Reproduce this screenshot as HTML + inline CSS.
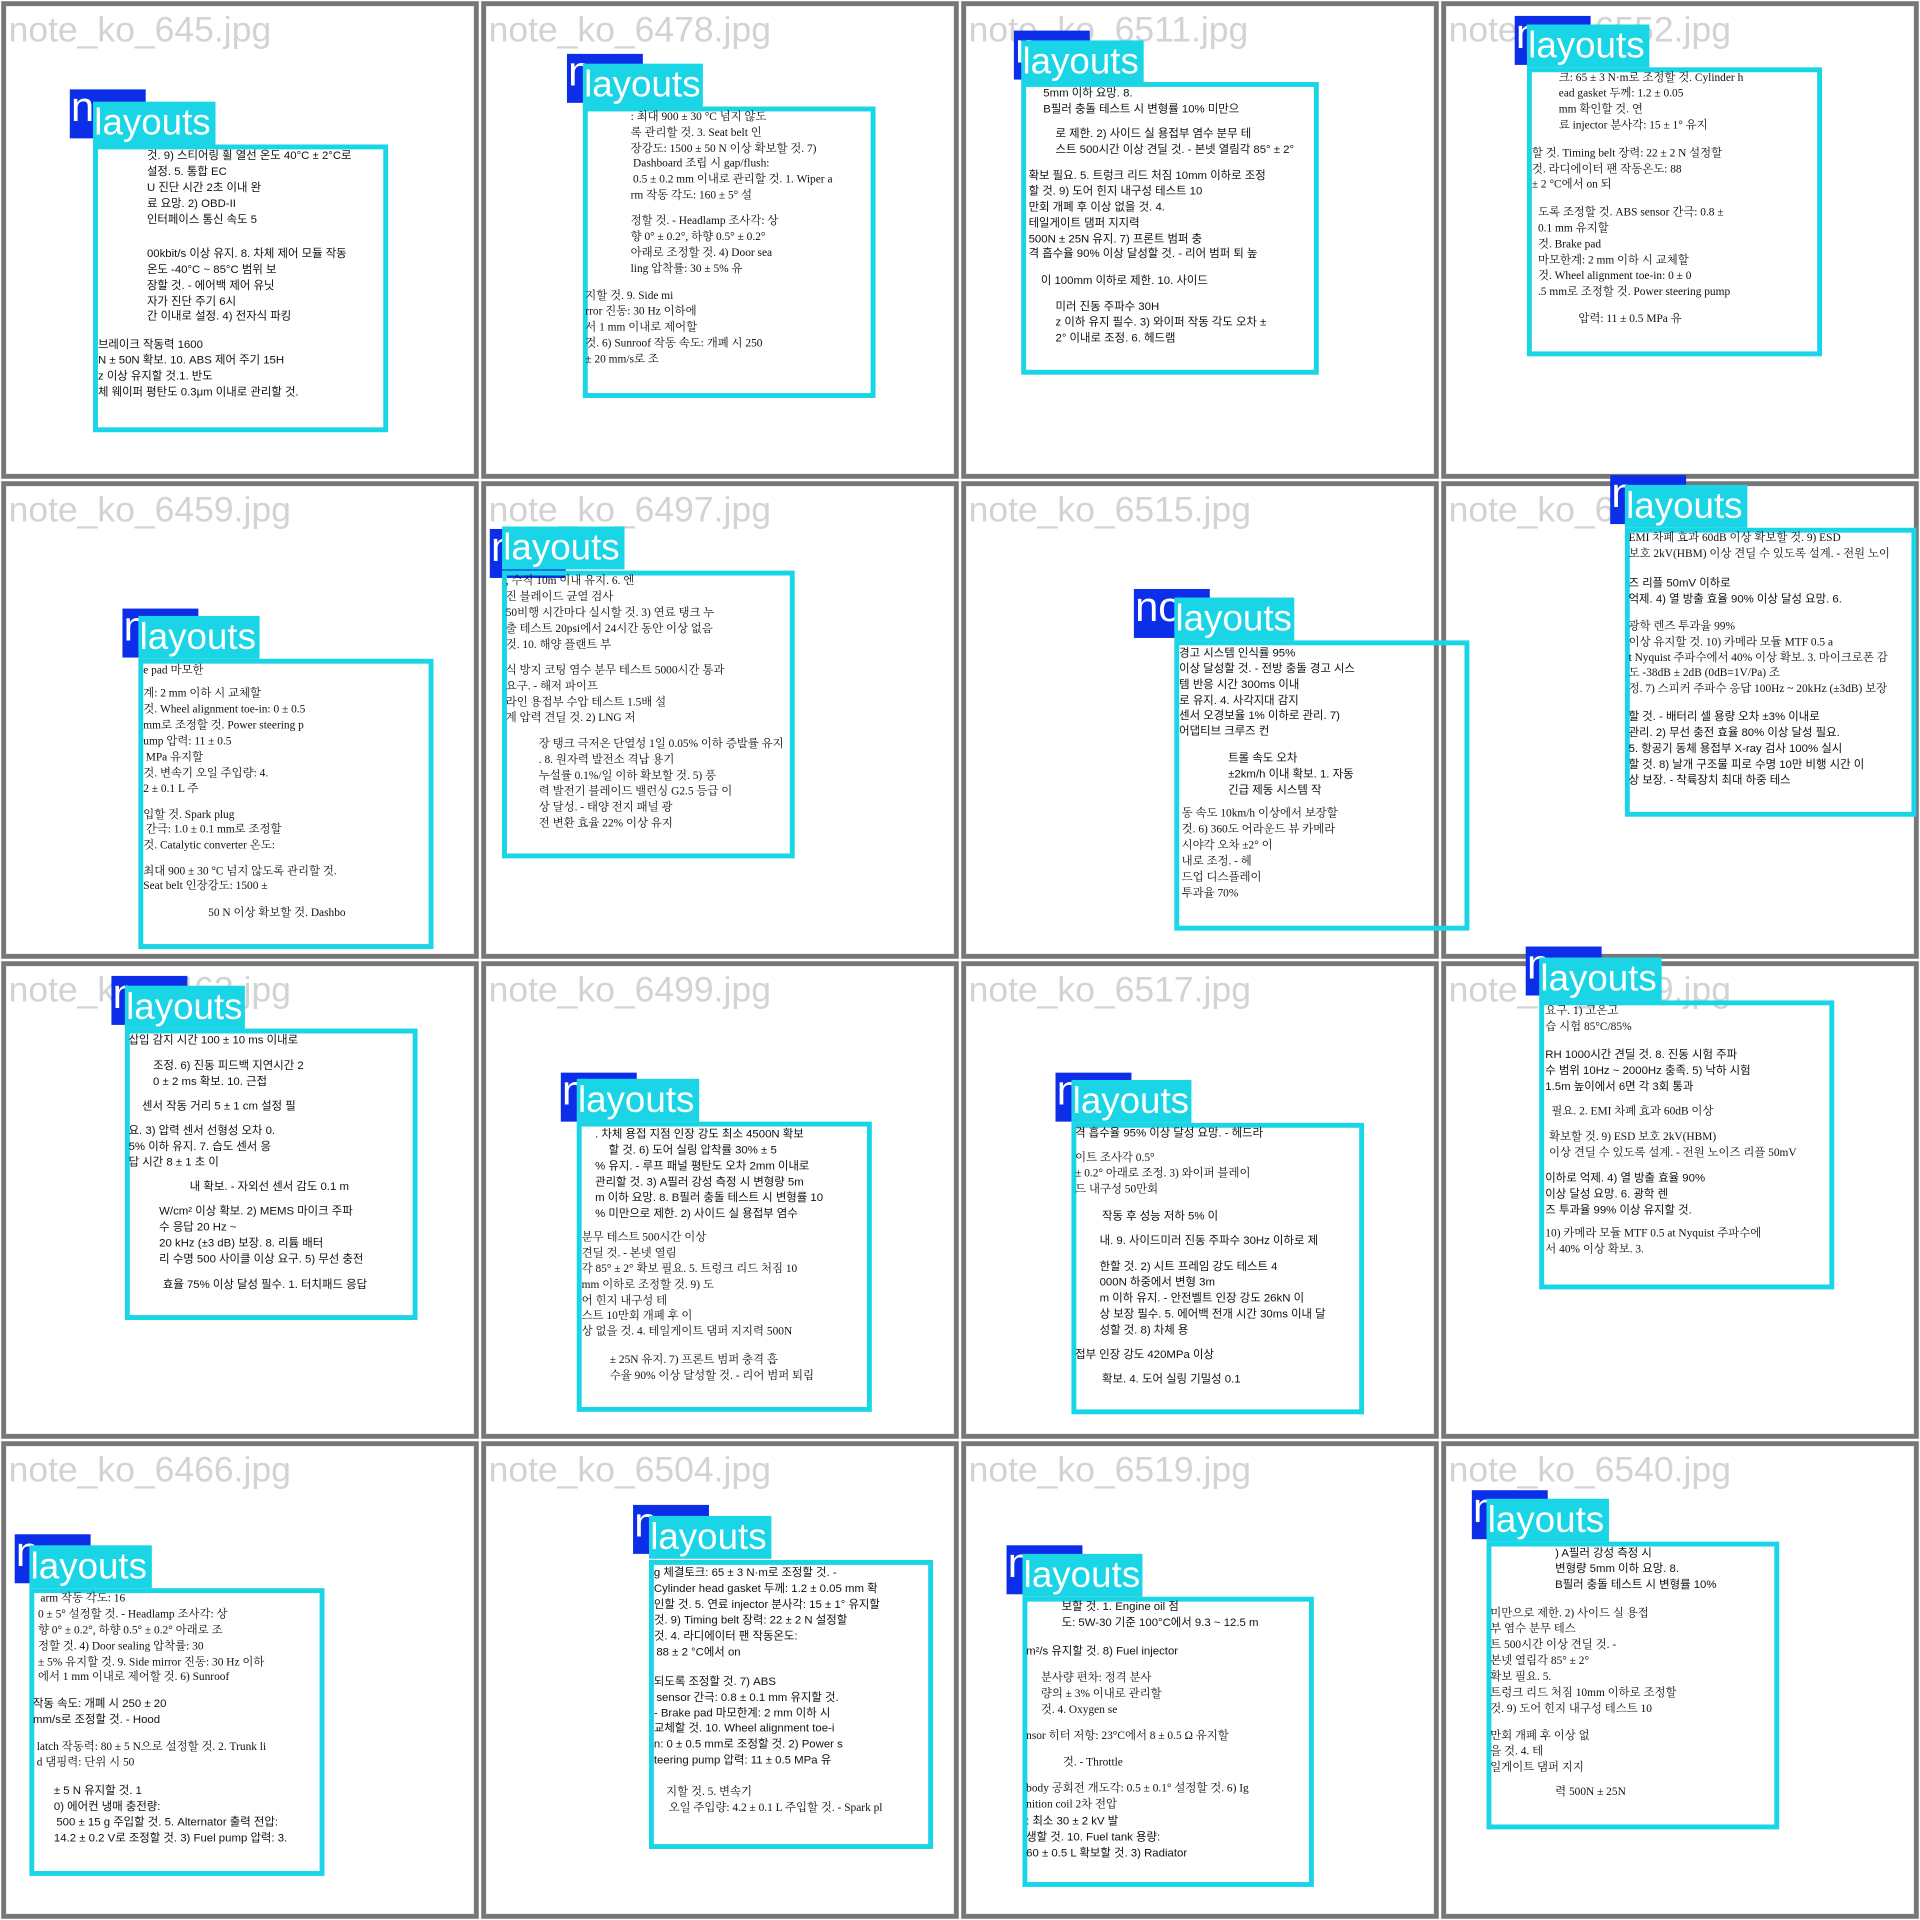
<!DOCTYPE html>
<html><head><meta charset="utf-8"><style>
html,body{margin:0;padding:0;background:#fff;width:1920px;height:1920px;overflow:hidden}
#w{position:absolute;left:0;top:0;width:1568px;height:1568px;transform:scale(1.224490);transform-origin:0 0}
.c{position:absolute;width:382px;height:382px;border:4px solid #777;background:#fff;overflow:hidden}
.c span{position:absolute;left:2px;top:4px;font:29px "Liberation Sans",sans-serif;color:#d3d3d3;white-space:nowrap}
.b{position:absolute;width:62px;height:40px;background:#0d2ee8;overflow:hidden;z-index:2}
.b em{position:absolute;left:1px;top:-4px;font:34px "Liberation Sans",sans-serif;color:#fff;font-style:normal}
.l{position:absolute;height:35px;background:#19d5e6;color:#fff;font:30px/35px "Liberation Sans",sans-serif;z-index:3;white-space:nowrap;box-sizing:border-box;padding-left:1px}
.x{position:absolute;border:4px solid #19d5e6;box-sizing:border-box;z-index:3}
i{position:absolute;font-style:normal;font-size:9.3px;line-height:12px;white-space:nowrap;color:#111;z-index:4;font-family:"Liberation Sans","Noto Sans CJK KR",sans-serif}
.s i{font-family:"Liberation Serif","Noto Serif CJK SC",serif}
</style></head><body><div id="w">

<div class="c" style="left:1px;top:1px"><span>note_ko_645.jpg</span></div>
<div class="c" style="left:393px;top:1px"><span>note_ko_6478.jpg</span></div>
<div class="c" style="left:785px;top:1px"><span>note_ko_6511.jpg</span></div>
<div class="c" style="left:1177px;top:1px"><span>note_ko_6552.jpg</span></div>
<div class="c" style="left:1px;top:393px"><span>note_ko_6459.jpg</span></div>
<div class="c" style="left:393px;top:393px"><span>note_ko_6497.jpg</span></div>
<div class="c" style="left:785px;top:393px"><span>note_ko_6515.jpg</span></div>
<div class="c" style="left:1177px;top:393px"><span>note_ko_6538.jpg</span></div>
<div class="c" style="left:1px;top:785px"><span>note_ko_6463.jpg</span></div>
<div class="c" style="left:393px;top:785px"><span>note_ko_6499.jpg</span></div>
<div class="c" style="left:785px;top:785px"><span>note_ko_6517.jpg</span></div>
<div class="c" style="left:1177px;top:785px"><span>note_ko_6539.jpg</span></div>
<div class="c" style="left:1px;top:1177px"><span>note_ko_6466.jpg</span></div>
<div class="c" style="left:393px;top:1177px"><span>note_ko_6504.jpg</span></div>
<div class="c" style="left:785px;top:1177px"><span>note_ko_6519.jpg</span></div>
<div class="c" style="left:1177px;top:1177px"><span>note_ko_6540.jpg</span></div>

<!-- 1 -->
<div class="b" style="left:57px;top:73px"><em>n</em></div><div class="l" style="left:76px;top:83px;width:100px">layouts</div><div class="x" style="left:76px;top:118px;width:241px;height:235px"></div>
<div>
<i style="left:120px;top:121px">것. 9) 스티어링 휠 열선 온도 40°C ± 2°C로</i><i style="left:120px;top:134px">설정. 5. 통합 EC</i><i style="left:120px;top:147px">U 진단 시간 2초 이내 완</i><i style="left:120px;top:160px">료 요망. 2) OBD-II</i><i style="left:120px;top:173px">인터페이스 통신 속도 5</i>
<i style="left:120px;top:201px">00kbit/s 이상 유지. 8. 차체 제어 모듈 작동</i><i style="left:120px;top:214px">온도 -40°C ~ 85°C 범위 보</i><i style="left:120px;top:227px">장할 것. - 에어백 제어 유닛</i><i style="left:120px;top:240px">자가 진단 주기 6시</i><i style="left:120px;top:252px">간 이내로 설정. 4) 전자식 파킹</i>
<i style="left:80px;top:275px">브레이크 작동력 1600</i><i style="left:80px;top:288px">N ± 50N 확보. 10. ABS 제어 주기 15H</i><i style="left:80px;top:301px">z 이상 유지할 것.1. 반도</i><i style="left:80px;top:314px">체 웨이퍼 평탄도 0.3μm 이내로 관리할 것.</i>
</div>

<!-- 2 -->
<div class="b" style="left:463px;top:44px"><em>n</em></div><div class="l" style="left:476px;top:52px;width:98px">layouts</div><div class="x" style="left:476px;top:87px;width:239px;height:238px"></div>
<div class="s">
<i style="left:515px;top:90px">: 최대 900 ± 30 °C 넘지 않도</i><i style="left:515px;top:103px">록 관리할 것. 3. Seat belt 인</i><i style="left:515px;top:116px">장강도: 1500 ± 50 N 이상 확보할 것. 7)</i><i style="left:517px;top:128px">Dashboard 조립 시 gap/flush:</i><i style="left:517px;top:141px">0.5 ± 0.2 mm 이내로 관리할 것. 1. Wiper a</i><i style="left:515px;top:154px">rm 작동 각도: 160 ± 5° 설</i>
<i style="left:515px;top:175px">정할 것. - Headlamp 조사각: 상</i><i style="left:515px;top:188px">향 0° ± 0.2°, 하향 0.5° ± 0.2°</i><i style="left:515px;top:201px">아래로 조정할 것. 4) Door sea</i><i style="left:515px;top:214px">ling 압착률: 30 ± 5% 유</i>
<i style="left:478px;top:236px">지할 것. 9. Side mi</i><i style="left:478px;top:249px">rror 진동: 30 Hz 이하에</i><i style="left:478px;top:262px">서 1 mm 이내로 제어할</i><i style="left:478px;top:275px">것. 6) Sunroof 작동 속도: 개폐 시 250</i><i style="left:478px;top:288px">± 20 mm/s로 조</i>
</div>

<!-- 3 -->
<div class="b" style="left:828px;top:25px"><em>n</em></div><div class="l" style="left:834px;top:33px;width:100px">layouts</div><div class="x" style="left:834px;top:67px;width:243px;height:239px"></div>
<div>
<i style="left:852px;top:70px">5mm 이하 요망. 8.</i><i style="left:852px;top:83px">B필러 충돌 테스트 시 변형률 10% 미만으</i>
<i style="left:862px;top:103px">로 제한. 2) 사이드 실 용접부 염수 분무 테</i><i style="left:862px;top:116px">스트 500시간 이상 견딜 것. - 본넷 열림각 85° ± 2°</i>
<i style="left:840px;top:137px">확보 필요. 5. 트렁크 리드 처짐 10mm 이하로 조정</i><i style="left:840px;top:150px">할 것. 9) 도어 힌지 내구성 테스트 10</i><i style="left:840px;top:163px">만회 개폐 후 이상 없을 것. 4.</i><i style="left:840px;top:176px">테일게이트 댐퍼 지지력</i><i style="left:840px;top:189px">500N ± 25N 유지. 7) 프론트 범퍼 충</i><i style="left:840px;top:201px">격 흡수율 90% 이상 달성할 것. - 리어 범퍼 퇴 높</i>
<i style="left:850px;top:223px">이 100mm 이하로 제한. 10. 사이드</i>
<i style="left:862px;top:244px">미러 진동 주파수 30H</i><i style="left:862px;top:257px">z 이하 유지 필수. 3) 와이퍼 작동 각도 오차 ±</i><i style="left:862px;top:270px">2° 이내로 조정. 6. 헤드램</i>
</div>

<!-- 4 -->
<div class="b" style="left:1237px;top:13px"><em>n</em></div><div class="l" style="left:1247px;top:20px;width:100px">layouts</div><div class="x" style="left:1247px;top:55px;width:241px;height:236px"></div>
<div class="s">
<i style="left:1273px;top:58px">크: 65 ± 3 N·m로 조정할 것. Cylinder h</i><i style="left:1273px;top:71px">ead gasket 두께: 1.2 ± 0.05</i><i style="left:1273px;top:84px">mm 확인할 것. 연</i><i style="left:1273px;top:97px">료 injector 분사각: 15 ± 1° 유지</i>
<i style="left:1251px;top:120px">할 것. Timing belt 장력: 22 ± 2 N 설정할</i><i style="left:1251px;top:133px">것. 라디에이터 팬 작동온도: 88</i><i style="left:1251px;top:145px">± 2 °C에서 on 되</i>
<i style="left:1256px;top:168px">도록 조정할 것. ABS sensor 간극: 0.8 ±</i><i style="left:1256px;top:181px">0.1 mm 유지할</i><i style="left:1256px;top:194px">것. Brake pad</i><i style="left:1256px;top:207px">마모한계: 2 mm 이하 시 교체할</i><i style="left:1256px;top:220px">것. Wheel alignment toe-in: 0 ± 0</i><i style="left:1256px;top:233px">.5 mm로 조정할 것. Power steering pump</i>
<i style="left:1289px;top:255px">압력: 11 ± 0.5 MPa 유</i>
</div>

<!-- 5 -->
<div class="b" style="left:100px;top:497px"><em>n</em></div><div class="l" style="left:113px;top:503px;width:99px">layouts</div><div class="x" style="left:113px;top:538px;width:241px;height:237px"></div>
<div class="s">
<i style="left:117px;top:542px">e pad 마모한</i>
<i style="left:117px;top:561px">계: 2 mm 이하 시 교체할</i><i style="left:117px;top:574px">것. Wheel alignment toe-in: 0 ± 0.5</i><i style="left:117px;top:587px">mm로 조정할 것. Power steering p</i><i style="left:117px;top:600px">ump 압력: 11 ± 0.5</i><i style="left:119px;top:613px">MPa 유지할</i><i style="left:117px;top:626px">것. 변속기 오일 주입량: 4.</i><i style="left:117px;top:639px">2 ± 0.1 L 주</i>
<i style="left:117px;top:660px">입할 것. Spark plug</i><i style="left:119px;top:672px">간극: 1.0 ± 0.1 mm로 조정할</i><i style="left:117px;top:685px">것. Catalytic converter 온도:</i>
<i style="left:117px;top:706px">최대 900 ± 30 °C 넘지 않도록 관리할 것.</i><i style="left:117px;top:718px">Seat belt 인장강도: 1500 ±</i>
<i style="left:170px;top:740px">50 N 이상 확보할 것. Dashbo</i>
</div>

<!-- 6 -->
<div class="b" style="left:400px;top:432px"><em>n</em></div><div class="l" style="left:410px;top:430px;width:100px">layouts</div><div class="x" style="left:410px;top:466px;width:239px;height:235px"></div>
<div class="s">
<i style="left:413px;top:469px">, 수직 10m 이내 유지. 6. 엔</i><i style="left:413px;top:482px">진 블레이드 균열 검사</i><i style="left:413px;top:495px">50비행 시간마다 실시할 것. 3) 연료 탱크 누</i><i style="left:413px;top:508px">출 테스트 20psi에서 24시간 동안 이상 없음</i><i style="left:413px;top:521px">것. 10. 해양 플랜트 부</i>
<i style="left:413px;top:542px">식 방지 코팅 염수 분무 테스트 5000시간 통과</i><i style="left:413px;top:555px">요구. - 해저 파이프</i><i style="left:413px;top:568px">라인 용접부 수압 테스트 1.5배 설</i><i style="left:413px;top:581px">계 압력 견딜 것. 2) LNG 저</i>
<i style="left:440px;top:602px">장 탱크 극저온 단열성 1일 0.05% 이하 증발률 유지</i><i style="left:440px;top:615px">. 8. 원자력 발전소 격납 용기</i><i style="left:440px;top:628px">누설률 0.1%/일 이하 확보할 것. 5) 풍</i><i style="left:440px;top:641px">력 발전기 블레이드 밸런싱 G2.5 등급 이</i><i style="left:440px;top:654px">상 달성. - 태양 전지 패널 광</i><i style="left:440px;top:667px">전 변환 효율 22% 이상 유지</i>
</div>

<!-- 7 -->
<div class="b" style="left:926px;top:481px"><em>no</em></div><div class="l" style="left:959px;top:488px;width:98px">layouts</div><div class="x" style="left:959px;top:523px;width:241px;height:237px"></div>
<div>
<i style="left:963px;top:527px">경고 시스템 인식률 95%</i><i style="left:963px;top:540px">이상 달성할 것. - 전방 충돌 경고 시스</i><i style="left:963px;top:553px">템 반응 시간 300ms 이내</i><i style="left:963px;top:566px">로 유지. 4. 사각지대 감지</i><i style="left:963px;top:578px">센서 오경보율 1% 이하로 관리. 7)</i><i style="left:963px;top:591px">어댑티브 크루즈 컨</i>
<i style="left:1003px;top:613px">트롤 속도 오차</i><i style="left:1003px;top:626px">±2km/h 이내 확보. 1. 자동</i><i style="left:1003px;top:639px">긴급 제동 시스템 작</i>
</div><div class="s">
<i style="left:965px;top:659px">동 속도 10km/h 이상에서 보장할</i><i style="left:965px;top:672px">것. 6) 360도 어라운드 뷰 카메라</i><i style="left:965px;top:685px">시야각 오차 ±2° 이</i><i style="left:965px;top:698px">내로 조정. - 헤</i><i style="left:965px;top:711px">드업 디스플레이</i><i style="left:965px;top:724px">투과율 70%</i>
</div>

<!-- 8 -->
<div class="b" style="left:1315px;top:388px"><em>n</em></div><div class="l" style="left:1327px;top:396px;width:100px">layouts</div><div class="x" style="left:1327px;top:431px;width:238px;height:236px"></div>
<div class="s">
<i style="left:1330px;top:434px">EMI 차폐 효과 60dB 이상 확보할 것. 9) ESD</i><i style="left:1330px;top:447px">보호 2kV(HBM) 이상 견딜 수 있도록 설계. - 전원 노이</i>
</div><div>
<i style="left:1330px;top:470px">즈 리플 50mV 이하로</i><i style="left:1330px;top:483px">억제. 4) 열 방출 효율 90% 이상 달성 요망. 6.</i>
</div><div class="s">
<i style="left:1330px;top:506px">광학 렌즈 투과율 99%</i><i style="left:1330px;top:519px">이상 유지할 것. 10) 카메라 모듈 MTF 0.5 a</i><i style="left:1330px;top:532px">t Nyquist 주파수에서 40% 이상 확보. 3. 마이크로폰 감</i><i style="left:1330px;top:544px">도 -38dB ± 2dB (0dB=1V/Pa) 조</i><i style="left:1330px;top:557px">정. 7) 스피커 주파수 응답 100Hz ~ 20kHz (±3dB) 보장</i>
</div><div>
<i style="left:1330px;top:579px">할 것. - 배터리 셀 용량 오차 ±3% 이내로</i><i style="left:1330px;top:592px">관리. 2) 무선 충전 효율 80% 이상 달성 필요.</i><i style="left:1330px;top:605px">5. 항공기 동체 용접부 X-ray 검사 100% 실시</i><i style="left:1330px;top:618px">할 것. 8) 날개 구조물 피로 수명 10만 비행 시간 이</i><i style="left:1330px;top:631px">상 보장. - 착륙장치 최대 하중 테스</i>
</div>

<!-- 9 -->
<div class="b" style="left:91px;top:797px"><em>n</em></div><div class="l" style="left:102px;top:805px;width:98px">layouts</div><div class="x" style="left:102px;top:840px;width:239px;height:238px"></div>
<div>
<i style="left:105px;top:843px">삽입 감지 시간 100 ± 10 ms 이내로</i>
<i style="left:125px;top:864px">조정. 6) 진동 피드백 지연시간 2</i><i style="left:125px;top:877px">0 ± 2 ms 확보. 10. 근접</i>
<i style="left:116px;top:897px">센서 작동 거리 5 ± 1 cm 설정 필</i>
<i style="left:105px;top:917px">요. 3) 압력 센서 선형성 오차 0.</i><i style="left:105px;top:930px">5% 이하 유지. 7. 습도 센서 응</i><i style="left:105px;top:943px">답 시간 8 ± 1 초 이</i>
<i style="left:155px;top:963px">내 확보. - 자외선 센서 감도 0.1 m</i>
<i style="left:130px;top:983px">W/cm² 이상 확보. 2) MEMS 마이크 주파</i><i style="left:130px;top:996px">수 응답 20 Hz ~</i><i style="left:130px;top:1009px">20 kHz (±3 dB) 보장. 8. 리튬 배터</i><i style="left:130px;top:1022px">리 수명 500 사이클 이상 요구. 5) 무선 충전</i>
<i style="left:133px;top:1043px">효율 75% 이상 달성 필수. 1. 터치패드 응답</i>
</div>

<!-- 10 -->
<div class="b" style="left:458px;top:876px"><em>n</em></div><div class="l" style="left:471px;top:881px;width:100px">layouts</div><div class="x" style="left:471px;top:916px;width:241px;height:237px"></div>
<div>
<i style="left:486px;top:920px">. 차체 용접 지점 인장 강도 최소 4500N 확보</i><i style="left:497px;top:933px">할 것. 6) 도어 실링 압착률 30% ± 5</i><i style="left:486px;top:946px">% 유지. - 루프 패널 평탄도 오차 2mm 이내로</i><i style="left:486px;top:959px">관리할 것. 3) A필러 강성 측정 시 변형량 5m</i><i style="left:486px;top:972px">m 이하 요망. 8. B필러 충돌 테스트 시 변형률 10</i><i style="left:486px;top:985px">% 미만으로 제한. 2) 사이드 실 용접부 염수</i>
</div><div class="s">
<i style="left:475px;top:1005px">분무 테스트 500시간 이상</i><i style="left:475px;top:1018px">견딜 것. - 본넷 열림</i><i style="left:475px;top:1031px">각 85° ± 2° 확보 필요. 5. 트렁크 리드 처짐 10</i><i style="left:475px;top:1044px">mm 이하로 조정할 것. 9) 도</i><i style="left:475px;top:1057px">어 힌지 내구성 테</i><i style="left:475px;top:1069px">스트 10만회 개폐 후 이</i><i style="left:475px;top:1082px">상 없을 것. 4. 테일게이트 댐퍼 지지력 500N</i>
<i style="left:498px;top:1105px">± 25N 유지. 7) 프론트 범퍼 충격 흡</i><i style="left:498px;top:1118px">수율 90% 이상 달성할 것. - 리어 범퍼 퇴림</i>
</div>

<!-- 11 -->
<div class="b" style="left:862px;top:876px"><em>n</em></div><div class="l" style="left:875px;top:882px;width:98px">layouts</div><div class="x" style="left:875px;top:917px;width:239px;height:238px"></div>
<div>
<i style="left:878px;top:919px">격 흡수율 95% 이상 달성 요망. - 헤드라</i>
</div><div class="s">
<i style="left:878px;top:940px">이트 조사각 0.5°</i><i style="left:878px;top:953px">± 0.2° 아래로 조정. 3) 와이퍼 블레이</i><i style="left:878px;top:966px">드 내구성 50만회</i>
</div><div>
<i style="left:900px;top:987px">작동 후 성능 저하 5% 이</i>
<i style="left:898px;top:1007px">내. 9. 사이드미러 진동 주파수 30Hz 이하로 제</i>
<i style="left:898px;top:1028px">한할 것. 2) 시트 프레임 강도 테스트 4</i><i style="left:898px;top:1041px">000N 하중에서 변형 3m</i><i style="left:898px;top:1054px">m 이하 유지. - 안전벨트 인장 강도 26kN 이</i><i style="left:898px;top:1067px">상 보장 필수. 5. 에어백 전개 시간 30ms 이내 달</i><i style="left:898px;top:1080px">성할 것. 8) 차체 용</i>
<i style="left:878px;top:1100px">접부 인장 강도 420MPa 이상</i>
<i style="left:900px;top:1120px">확보. 4. 도어 실링 기밀성 0.1</i>
</div>

<!-- 12 -->
<div class="b" style="left:1246px;top:773px"><em>n</em></div><div class="l" style="left:1257px;top:782px;width:100px">layouts</div><div class="x" style="left:1257px;top:817px;width:241px;height:236px"></div>
<div class="s">
<i style="left:1262px;top:820px">요구. 1) 고온고</i><i style="left:1262px;top:833px">습 시험 85°C/85%</i>
</div><div>
<i style="left:1262px;top:855px">RH 1000시간 견딜 것. 8. 진동 시험 주파</i><i style="left:1262px;top:868px">수 범위 10Hz ~ 2000Hz 충족. 5) 낙하 시험</i><i style="left:1262px;top:881px">1.5m 높이에서 6면 각 3회 통과</i>
</div><div class="s">
<i style="left:1267px;top:902px">필요. 2. EMI 차폐 효과 60dB 이상</i>
<i style="left:1265px;top:923px">확보할 것. 9) ESD 보호 2kV(HBM)</i><i style="left:1265px;top:936px">이상 견딜 수 있도록 설계. - 전원 노이즈 리플 50mV</i>
</div><div>
<i style="left:1262px;top:956px">이하로 억제. 4) 열 방출 효율 90%</i><i style="left:1262px;top:969px">이상 달성 요망. 6. 광학 렌</i><i style="left:1262px;top:982px">즈 투과율 99% 이상 유지할 것.</i>
</div><div class="s">
<i style="left:1262px;top:1002px">10) 카메라 모듈 MTF 0.5 at Nyquist 주파수에</i><i style="left:1262px;top:1015px">서 40% 이상 확보. 3.</i>
</div>

<!-- 13 -->
<div class="b" style="left:12px;top:1253px"><em>n</em></div><div class="l" style="left:24px;top:1262px;width:100px">layouts</div><div class="x" style="left:24px;top:1297px;width:241px;height:235px"></div>
<div class="s">
<i style="left:33px;top:1300px">arm 작동 각도: 16</i><i style="left:31px;top:1313px">0 ± 5° 설정할 것. - Headlamp 조사각: 상</i><i style="left:31px;top:1326px">향 0° ± 0.2°, 하향 0.5° ± 0.2° 아래로 조</i><i style="left:31px;top:1339px">정할 것. 4) Door sealing 압착률: 30</i><i style="left:31px;top:1352px">± 5% 유지할 것. 9. Side mirror 진동: 30 Hz 이하</i><i style="left:31px;top:1364px">에서 1 mm 이내로 제어할 것. 6) Sunroof</i>
</div><div>
<i style="left:27px;top:1385px">작동 속도: 개폐 시 250 ± 20</i><i style="left:27px;top:1398px">mm/s로 조정할 것. - Hood</i>
</div><div class="s">
<i style="left:30px;top:1421px">latch 작동력: 80 ± 5 N으로 설정할 것. 2. Trunk li</i><i style="left:30px;top:1434px">d 댐핑력: 단위 시 50</i>
</div><div>
<i style="left:44px;top:1456px">± 5 N 유지할 것. 1</i><i style="left:44px;top:1469px">0) 에어컨 냉매 충전량:</i><i style="left:46px;top:1482px">500 ± 15 g 주입할 것. 5. Alternator 출력 전압:</i><i style="left:44px;top:1495px">14.2 ± 0.2 V로 조정할 것. 3) Fuel pump 압력: 3.</i>
</div>

<!-- 14 -->
<div class="b" style="left:517px;top:1229px"><em>n</em></div><div class="l" style="left:530px;top:1238px;width:100px">layouts</div><div class="x" style="left:530px;top:1274px;width:232px;height:236px"></div>
<div>
<i style="left:534px;top:1278px">g 체결토크: 65 ± 3 N·m로 조정할 것. -</i><i style="left:534px;top:1291px">Cylinder head gasket 두께: 1.2 ± 0.05 mm 확</i><i style="left:534px;top:1304px">인할 것. 5. 연료 injector 분사각: 15 ± 1° 유지할</i><i style="left:534px;top:1317px">것. 9) Timing belt 장력: 22 ± 2 N 설정할</i><i style="left:534px;top:1330px">것. 4. 라디에이터 팬 작동온도:</i><i style="left:536px;top:1343px">88 ± 2 °C에서 on</i>
<i style="left:534px;top:1367px">되도록 조정할 것. 7) ABS</i><i style="left:536px;top:1380px">sensor 간극: 0.8 ± 0.1 mm 유지할 것.</i><i style="left:534px;top:1393px">- Brake pad 마모한계: 2 mm 이하 시</i><i style="left:534px;top:1405px">교체할 것. 10. Wheel alignment toe-i</i><i style="left:534px;top:1418px">n: 0 ± 0.5 mm로 조정할 것. 2) Power s</i><i style="left:534px;top:1431px">teering pump 압력: 11 ± 0.5 MPa 유</i>
</div><div class="s">
<i style="left:544px;top:1458px">지할 것. 5. 변속기</i><i style="left:546px;top:1471px">오일 주입량: 4.2 ± 0.1 L 주입할 것. - Spark pl</i>
</div>

<!-- 15 -->
<div class="b" style="left:822px;top:1262px"><em>n</em></div><div class="l" style="left:835px;top:1269px;width:98px">layouts</div><div class="x" style="left:835px;top:1304px;width:238px;height:237px"></div>
<div>
<i style="left:867px;top:1306px">보할 것. 1. Engine oil 점</i><i style="left:867px;top:1319px">도: 5W-30 기준 100°C에서 9.3 ~ 12.5 m</i>
<i style="left:838px;top:1342px">m²/s 유지할 것. 8) Fuel injector</i>
</div><div class="s">
<i style="left:850px;top:1365px">분사량 편차: 정격 분사</i><i style="left:850px;top:1378px">량의 ± 3% 이내로 관리할</i><i style="left:850px;top:1391px">것. 4. Oxygen se</i>
<i style="left:838px;top:1412px">nsor 히터 저항: 23°C에서 8 ± 0.5 Ω 유지할</i>
<i style="left:868px;top:1434px">것. - Throttle</i>
<i style="left:838px;top:1455px">body 공회전 개도각: 0.5 ± 0.1° 설정할 것. 6) Ig</i><i style="left:838px;top:1468px">nition coil 2차 전압</i>
</div><div>
<i style="left:838px;top:1481px">: 최소 30 ± 2 kV 발</i><i style="left:838px;top:1494px">생할 것. 10. Fuel tank 용량:</i><i style="left:838px;top:1507px">60 ± 0.5 L 확보할 것. 3) Radiator</i>
</div>

<!-- 16 -->
<div class="b" style="left:1202px;top:1217px"><em>n</em></div><div class="l" style="left:1214px;top:1224px;width:100px">layouts</div><div class="x" style="left:1214px;top:1259px;width:239px;height:235px"></div>
<div>
<i style="left:1270px;top:1262px">) A필러 강성 측정 시</i><i style="left:1270px;top:1275px">변형량 5mm 이하 요망. 8.</i><i style="left:1270px;top:1288px">B필러 충돌 테스트 시 변형률 10%</i>
</div><div class="s">
<i style="left:1217px;top:1312px">미만으로 제한. 2) 사이드 실 용접</i><i style="left:1217px;top:1325px">부 염수 분무 테스</i><i style="left:1217px;top:1338px">트 500시간 이상 견딜 것. -</i><i style="left:1217px;top:1351px">본넷 열림각 85° ± 2°</i><i style="left:1217px;top:1364px">확보 필요. 5.</i><i style="left:1217px;top:1377px">트렁크 리드 처짐 10mm 이하로 조정할</i><i style="left:1217px;top:1390px">것. 9) 도어 힌지 내구성 테스트 10</i>
<i style="left:1217px;top:1412px">만회 개폐 후 이상 없</i><i style="left:1217px;top:1425px">을 것. 4. 테</i><i style="left:1217px;top:1438px">일게이트 댐퍼 지지</i>
<i style="left:1270px;top:1458px">력 500N ± 25N</i>
</div>

</div></body></html>
